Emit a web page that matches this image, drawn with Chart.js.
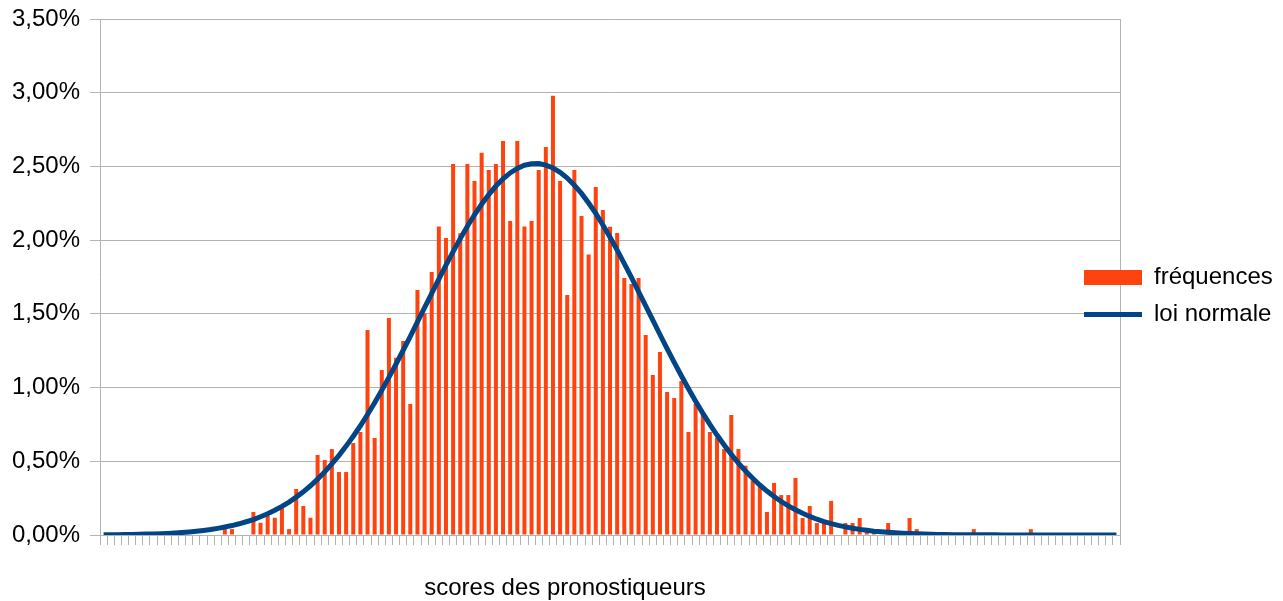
<!DOCTYPE html>
<html>
<head>
<meta charset="utf-8">
<title>scores des pronostiqueurs</title>
<script src="https://cdn.jsdelivr.net/npm/chart.js@4/dist/chart.umd.min.js"></script>
<style>
  html, body { margin: 0; padding: 0; background: #fff; }
  #wrap { width: 1283px; height: 601px; }
</style>
</head>
<body>
<div id="wrap"><canvas id="chart" width="1283" height="601"></canvas></div>
<script>
/* =========================
   DONNEES (en %)
========================= */
const frequences = [
  0, 0, 0, 0, 0, 0, 0, 0, 0, 0,
  0, 0, 0, 0, 0, 0, 0, 0.04, 0.04, 0,
  0, 0.156, 0.083, 0.129, 0.117, 0.185, 0.04, 0.312, 0.197, 0.117,
  0.543, 0.509, 0.583, 0.427, 0.427, 0.624, 0.699, 1.391, 0.658, 1.119,
  1.472, 1.203, 1.316, 0.889, 1.662, 1.504, 1.784, 2.092, 2.015, 2.517,
  2.047, 2.517, 2.402, 2.592, 2.476, 2.517, 2.673, 2.130, 2.673, 2.092,
  2.130, 2.476, 2.632, 2.980, 2.402, 1.628, 2.476, 2.164, 1.902, 2.361,
  2.205, 2.09, 2.049, 1.744, 1.703, 1.744, 1.357, 1.085, 1.242, 0.970,
  0.929, 1.045, 0.699, 0.889, 0.82, 0.699, 0.66, 0.583, 0.814, 0.583,
  0.47, 0.37, 0.33, 0.156, 0.353, 0.271, 0.271, 0.387, 0.115, 0.197,
  0.081, 0.081, 0.231, 0, 0.081, 0.081, 0.115, 0.03, 0.03, 0,
  0.081, 0, 0, 0.115, 0.04, 0, 0, 0, 0, 0,
  0, 0, 0.04, 0, 0, 0, 0, 0, 0, 0,
  0.04, 0, 0, 0, 0, 0, 0, 0, 0, 0,
  0, 0, 0
];

const loiNormale = [
  0.001, 0.002, 0.002, 0.003, 0.004, 0.005, 0.006, 0.007, 0.009, 0.011,
  0.014, 0.017, 0.021, 0.026, 0.031, 0.037, 0.045, 0.054, 0.064, 0.076,
  0.090, 0.105, 0.124, 0.144, 0.168, 0.194, 0.223, 0.257, 0.293, 0.334,
  0.379, 0.428, 0.482, 0.540, 0.603, 0.670, 0.741, 0.817, 0.897, 0.982,
  1.069, 1.160, 1.253, 1.348, 1.445, 1.542, 1.639, 1.736, 1.830, 1.922,
  2.010, 2.094, 2.172, 2.244, 2.309, 2.367, 2.416, 2.456, 2.487, 2.508,
  2.518, 2.519, 2.509, 2.490, 2.460, 2.421, 2.373, 2.317, 2.252, 2.181,
  2.103, 2.020, 1.932, 1.841, 1.747, 1.651, 1.554, 1.457, 1.360, 1.264,
  1.171, 1.080, 0.992, 0.908, 0.827, 0.750, 0.678, 0.610, 0.547, 0.488,
  0.434, 0.385, 0.339, 0.298, 0.261, 0.227, 0.197, 0.171, 0.147, 0.126,
  0.107, 0.091, 0.077, 0.065, 0.055, 0.046, 0.038, 0.032, 0.026, 0.022,
  0.018, 0.015, 0.012, 0.010, 0.008, 0.006, 0.005, 0.004, 0.003, 0.002,
  0.002, 0.002, 0.001, 0.001, 0.001, 0.001, 0, 0, 0, 0,
  0, 0, 0, 0, 0, 0, 0, 0, 0, 0,
  0, 0, 0
];

// categories (scores) : pas d'etiquettes affichees sur l'axe
const scores = frequences.map((_, i) => i);

const yTickLabels = ["0,00%", "0,50%", "1,00%", "1,50%", "2,00%", "2,50%", "3,00%", "3,50%"];
const axisTitle = "scores des pronostiqueurs";

/* =========================
   STYLE
========================= */
const ORANGE = "#ff420e";
const BLEU = "#004586";
const GRIS = "#b3b3b3";

Chart.defaults.font.family = "'Liberation Sans', Arial, sans-serif";
Chart.defaults.font.size = 24;
Chart.defaults.color = "#000";

/* legende posee comme dans l'original + titre de l'axe X */
const habillage = {
  id: "habillage",
  afterLayout(chart) {
    const lg = chart.legend;
    lg.left -= 49;
    lg.right = chart.width;
    lg.top += 14;
    lg.bottom += 14;
  },
  afterDraw(chart) {
    const { ctx, chartArea } = chart;
    ctx.save();
    ctx.font = "24px 'Liberation Sans', Arial, sans-serif";
    ctx.fillStyle = "#000";
    ctx.textAlign = "center";
    ctx.textBaseline = "middle";
    ctx.fillText(axisTitle, (chartArea.right + 10) / 2, chartArea.bottom + 53);
    ctx.restore();
  }
};

/* =========================
   GRAPHIQUE
========================= */
new Chart(document.getElementById("chart"), {
  type: "bar",
  data: {
    labels: scores,
    datasets: [
      {
        label: "fréquences",
        data: frequences,
        backgroundColor: ORANGE,
        borderWidth: 0,
        barPercentage: 0.56,
        categoryPercentage: 1,
        order: 1
      },
      {
        type: "line",
        label: "loi normale",
        data: loiNormale,
        borderColor: BLEU,
        backgroundColor: BLEU,
        borderWidth: 5,
        pointRadius: 0,
        tension: 0,
        order: 0
      }
    ]
  },
  options: {
    responsive: false,
    animation: false,
    devicePixelRatio: 1,
    layout: { padding: { left: 2, right: 13, top: 19, bottom: 56 } },
    scales: {
      x: {
        offset: true,
        ticks: { display: false },
        grid: {
          offset: true,
          drawOnChartArea: true,
          color: c => (c.type === "tick" ? "rgba(0,0,0,0)" : GRIS),
          tickColor: GRIS,
          tickLength: 10
        },
        border: { color: GRIS }
      },
      y: {
        min: 0,
        max: 3.5,
        afterFit(scale) {
          scale.paddingTop = 0;
          scale.paddingBottom = 0;
        },
        ticks: {
          stepSize: 0.5,
          padding: 10,
          color: "#000",
          callback: (v, i) => yTickLabels[i]
        },
        grid: { color: GRIS, tickColor: GRIS, tickLength: 10 },
        border: { color: GRIS }
      }
    },
    plugins: {
      tooltip: { enabled: false },
      legend: {
        position: "right",
        maxWidth: 150,
        labels: {
          usePointStyle: true,
          pointStyleWidth: 58,
          boxHeight: 15,
          padding: 13,
          color: "#000",
          generateLabels(chart) {
            const items = Chart.defaults.plugins.legend.labels.generateLabels(chart);
            items.sort((a, b) => a.datasetIndex - b.datasetIndex);
            items.forEach(it => {
              if (it.datasetIndex === 0) {
                it.pointStyle = "rect";
                it.lineWidth = 0;
              } else {
                it.pointStyle = "line";
                it.lineWidth = 5;
                it.strokeStyle = BLEU;
              }
            });
            return items;
          }
        }
      }
    }
  },
  plugins: [habillage]
});
</script>
</body>
</html>
